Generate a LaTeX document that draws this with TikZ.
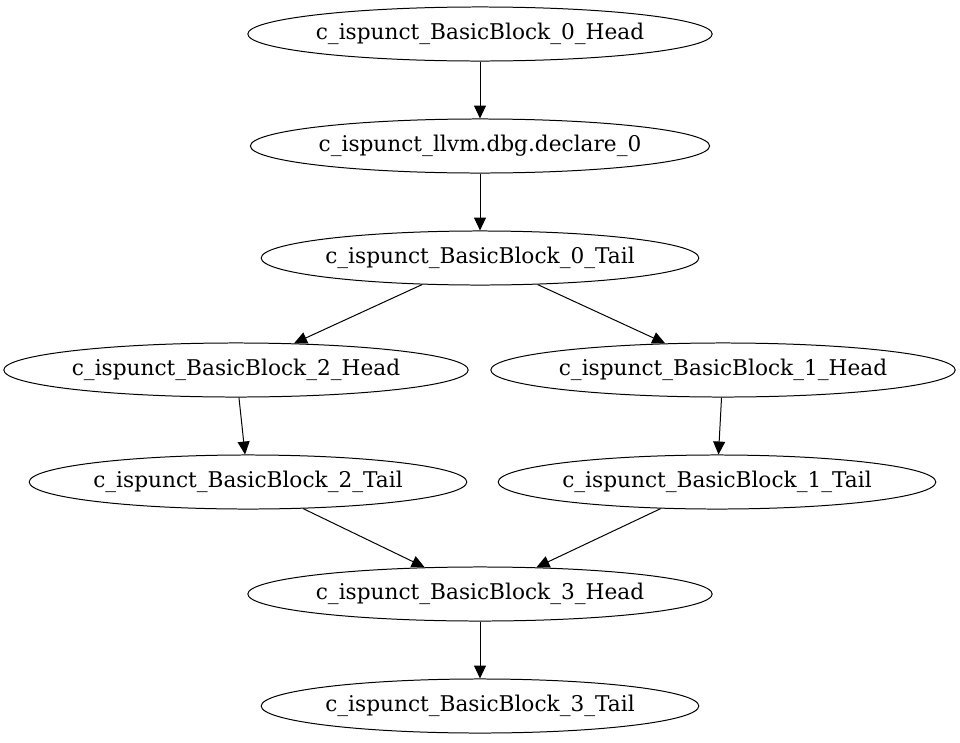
\documentclass[tikz,border=0pt]{standalone}
\usepackage{fontspec}
\setmainfont{DejaVu Serif}
\usetikzlibrary{shapes.geometric,arrows.meta}

\begin{document}
\begin{tikzpicture}[x=0.0264583cm,y=-0.0264583cm,line width=0.75pt]

      \useasboundingbox (0,0) rectangle (960,742);

      \begin{scope}[every node/.style={ellipse,draw,inner sep=0pt,minimum height=1.43cm,font=\fontsize{16.3}{19}\selectfont}]
        \node[minimum width=12.2cm]  (1) at (480,34)  {c\_ispunct\_BasicBlock\_0\_Head};
        \node[minimum width=12.15cm] (2) at (480,146) {c\_ispunct\_llvm.dbg.declare\_0};
        \node[minimum width=11.5cm]  (3) at (480,258) {c\_ispunct\_BasicBlock\_0\_Tail};
        \node[minimum width=12.17cm] (4) at (236,370) {c\_ispunct\_BasicBlock\_2\_Head};
        \node[minimum width=12.17cm] (5) at (723,370) {c\_ispunct\_BasicBlock\_1\_Head};
        \node[minimum width=11.53cm] (6) at (248,482) {c\_ispunct\_BasicBlock\_2\_Tail};
        \node[minimum width=11.53cm] (7) at (717,482) {c\_ispunct\_BasicBlock\_1\_Tail};
        \node[minimum width=12.2cm]  (8) at (480,594) {c\_ispunct\_BasicBlock\_3\_Head};
        \node[minimum width=11.5cm]  (9) at (480,706) {c\_ispunct\_BasicBlock\_3\_Tail};
      \end{scope}

      \begin{scope}[every edge/.style={draw,-{Triangle[length=9.75pt,width=9pt]}}]
        \path (1) edge (2);
        \path (2) edge (3);
        \path (3) edge (4);
        \path (3) edge (5);
        \path (4) edge (6);
        \path (5) edge (7);
        \path (6) edge (8);
        \path (7) edge (8);
        \path (8) edge (9);
      \end{scope}

    \end{tikzpicture}
\end{document}
